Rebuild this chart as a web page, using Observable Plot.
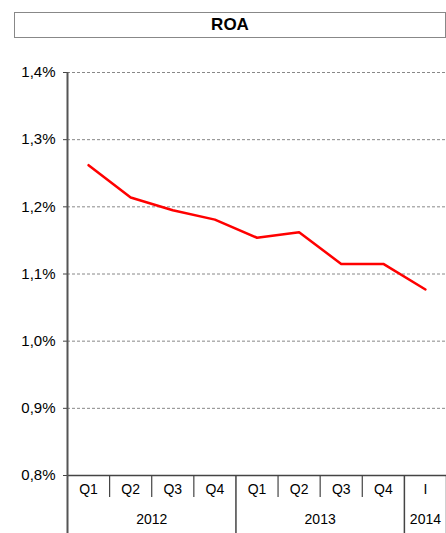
<!DOCTYPE html>
<html>
<head>
<meta charset="utf-8">
<script src="https://cdn.jsdelivr.net/npm/d3@7"></script>
<script src="https://cdn.jsdelivr.net/npm/@observablehq/plot@0.6"></script>
<style>
  html, body { margin: 0; padding: 0; background: #fff; }
  #wrap { position: relative; width: 446px; height: 533px; font-family: "Liberation Sans", Arial, sans-serif; }
  #title { position: absolute; left: 14px; top: 12px; width: 430px; height: 24px; border: 1px solid #888;
           text-align: center; font-weight: bold; font-size: 17px; line-height: 24px; color: #000; box-sizing: content-box; }
  #chart { position: absolute; left: 0; top: 0; }
</style>
</head>
<body>
<div id="wrap">
  <div id="title">ROA</div>
  <div id="chart"></div>
</div>
<script>
const quarters = ["Q1", "Q2", "Q3", "Q4", "Q1", "Q2", "Q3", "Q4", "I"];
const years = ["2012", "2012", "2012", "2012", "2013", "2013", "2013", "2013", "2014"];
const roa = [1.262, 1.214, 1.195, 1.181, 1.154, 1.162, 1.115, 1.115, 1.077];
const yTicks = [0.8, 0.9, 1.0, 1.1, 1.2, 1.3, 1.4];

const data = roa.map((v, i) => ({i, q: quarters[i], year: years[i], v}));
const yearGroups = Array.from(d3.group(data, d => d.year), ([year, rows]) => ({
  year, center: d3.mean(rows, r => r.i), last: d3.max(rows, r => r.i)
}));
const quarterSeps = data.slice(0, -1).map(d => d.i + 0.5).filter(x => !yearGroups.some(g => g.last + 0.5 === x));
const yearSeps = yearGroups.map(g => g.last + 0.5);

const W = 446, H = 533, mt = 72, mb = 58, ml = 67, mr = 0;
const plotH = H - mt - mb;
const fmt = v => d3.format(".1f")(v).replace(".", ",") + "%";

const chart = Plot.plot({
  width: W, height: H,
  marginTop: mt, marginBottom: mb, marginLeft: ml, marginRight: mr,
  style: {fontFamily: '"Liberation Sans", Arial, sans-serif', fontSize: "14px", color: "#000", background: "transparent", overflow: "visible"},
  x: {type: "linear", domain: [-0.5, quarters.length - 0.5], axis: null},
  y: {domain: [0.8, 1.4], axis: null},
  marks: [
    Plot.gridY(yTicks, {stroke: "#888", strokeOpacity: 1, strokeDasharray: "3,2", strokeWidth: 1}),
    Plot.axisY(yTicks, {label: null, tickSize: 4, tickPadding: 8, tickFormat: fmt, stroke: "#444", fontSize: 15, fill: "#000"}),
    Plot.ruleY([0.8], {stroke: "#444", strokeWidth: 1.5}),
    Plot.ruleX([-0.5], {stroke: "#555", strokeWidth: 2, insetBottom: -58}),
    Plot.ruleX(quarterSeps, {x: d => d, stroke: "#444", strokeWidth: 1.2, insetTop: plotH, insetBottom: -22}),
    Plot.ruleX(yearSeps, {x: d => d, stroke: "#444", strokeWidth: 1.5, insetTop: plotH, insetBottom: -58}),
    Plot.text(data, {x: "i", text: "q", frameAnchor: "bottom", dy: 18, fontSize: 14, fill: "#000"}),
    Plot.text(yearGroups, {x: "center", text: "year", frameAnchor: "bottom", dy: 48, fontSize: 14, fill: "#000"}),
    Plot.line(data, {x: "i", y: "v", stroke: "#ff0000", strokeWidth: 2.5})
  ]
});
document.getElementById("chart").appendChild(chart);
</script>
</body>
</html>
